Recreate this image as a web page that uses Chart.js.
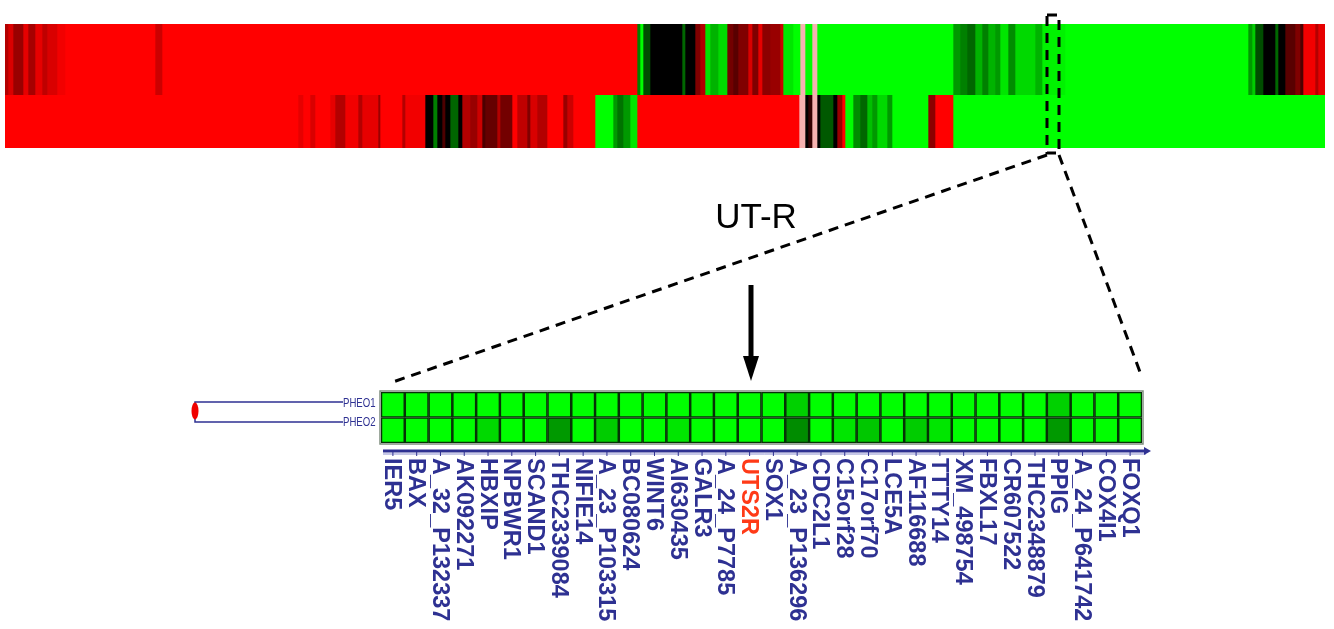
<!DOCTYPE html>
<html>
<head>
<meta charset="utf-8">
<script src="https://cdn.jsdelivr.net/npm/chart.js@4.4.1/dist/chart.umd.min.js"></script>
<style>
  html, body { margin: 0; padding: 0; background: #fff; }
  body { width: 1334px; height: 629px; position: relative; overflow: hidden; }
  canvas { position: absolute; }
  #overlay { pointer-events: none; }
</style>
</head>
<body>
<canvas id="stripA" width="1320" height="71" style="left:5px;top:24px"></canvas>
<canvas id="stripB" width="1320" height="53" style="left:5px;top:95px"></canvas>
<canvas id="zoomMap" width="1334" height="249" style="left:0;top:380px"></canvas>
<canvas id="overlay" width="1334" height="629" style="left:0;top:0"></canvas>
<script>
// genome-wide strip, run-length encoded: [log ratio, probe count]
// +1 = red (up), -1 = green (down), 0 = black, null = missing (pink)
const stripRunsA = [
  [0.7, 3], [0.85, 5], [0.6, 10], [0.9, 5], [0.65, 7], [0.9, 7], [0.75, 5], [0.85, 10], [0.95, 8],
  [1, 90], [0.8, 7], [1, 475],
  [-0.5, 3], [-1, 3], [-0.3, 7], [0, 32], [-0.4, 3], [0, 10], [0.5, 5], [0.7, 5],
  [-0.9, 5], [-0.7, 8], [-0.85, 9], [0.45, 6], [0.35, 5], [0.5, 10], [0.85, 4], [0.5, 6],
  [0.9, 4], [0.55, 8], [0.6, 10], [0.8, 3], [-0.9, 10], [-1, 7], [null, 5], [-1, 7], [null, 5],
  [-1, 136], [-0.6, 7], [-0.5, 7], [-0.4, 8], [-0.7, 7], [-0.5, 6], [-0.7, 7], [-0.6, 5],
  [-0.9, 8], [-0.55, 7], [-0.85, 20], [-0.7, 7], [-0.95, 23], [-1, 183],
  [-0.6, 4], [-0.8, 3], [-0.3, 8], [0, 12], [-0.4, 3], [0, 7], [0.35, 10], [0.5, 5], [0.3, 3],
  [0.95, 12], [0.7, 3], [0.9, 7]
];
const stripRunsB = [
  [1, 293], [0.9, 5], [1, 7], [0.85, 5], [1, 15], [0.9, 5], [0.7, 10], [0.95, 13], [0.7, 4],
  [0.9, 16], [0.6, 2], [1, 22], [0.7, 3], [0.95, 20], [0, 8], [-0.5, 4], [0, 5], [0.3, 3],
  [0, 5], [-0.4, 8], [0, 4], [0.7, 8], [0.6, 7], [0.8, 5], [0.3, 3], [0.4, 12], [0.7, 3],
  [0.45, 12], [1, 5], [0.75, 10], [0.5, 3], [0.85, 7], [0.7, 10], [1, 16], [0.6, 4], [0.8, 6],
  [1, 22], [-1, 18], [-0.6, 4], [-0.45, 6], [-0.6, 7], [-0.9, 7], [1, 162],
  [null, 6], [0, 3], [0.2, 4], [null, 5], [0, 3], [-0.35, 13], [0, 4], [0.6, 5], [1, 3],
  [-1, 8], [-0.55, 7], [-0.4, 7], [-0.75, 5], [-0.6, 5], [-0.85, 10], [-0.6, 5], [-1, 36],
  [0.55, 7], [1, 18], [-1, 372]
];

// zoomed cluster around UT-R
const genes = ['IER5', 'BAX', 'A_32_P132337', 'AK092271', 'HBXIP', 'NPBWR1', 'SCAND1', 'THC2339084',
  'NIFIE14', 'A_23_P103315', 'BC080624', 'WINT6', 'AI630435', 'GALR3', 'A_24_P7785', 'UTS2R',
  'SOX1', 'A_23_P136296', 'CDC2L1', 'C15orf28', 'C17orf70', 'LCE5A', 'AF116688', 'TTTY14',
  'XM_498754', 'FBXL17', 'CR607522', 'THC2348879', 'PPIG', 'A_24_P641742', 'COX4I1', 'FOXQ1'];
const samples = ['PHEO1', 'PHEO2'];
const pheo1 = [-1, -1, -1, -1, -1, -1, -1, -1, -1, -1, -1, -1, -1, -1, -1, -1,
  -1, -0.82, -1, -1, -1, -1, -1, -1, -1, -1, -1, -1, -0.82, -1, -1, -1];
const pheo2 = [-1, -1, -1, -1, -0.85, -1, -1, -0.6, -1, -0.8, -1, -1, -0.9, -1, -1, -1,
  -1, -0.55, -1, -0.9, -0.78, -1, -0.8, -0.9, -1, -1, -1, -1, -0.6, -1, -1, -1];
const highlightGene = 'UTS2R';

const NAVY = '#2e3192';
const FONT = '"Liberation Sans", Arial, sans-serif';

function cellColor(v) {
  if (v === null) return '#f7b2b0';
  const c = Math.round(255 * Math.abs(v));
  return v >= 0 ? `rgb(${c},0,0)` : `rgb(0,${c},0)`;
}

function stripChart(id, runs) {
  const total = runs.reduce((s, r) => s + r[1], 0);
  return new Chart(document.getElementById(id), {
    type: 'bar',
    data: {
      labels: [''],
      datasets: runs.map(([v, n]) => ({
        data: [n],
        backgroundColor: cellColor(v),
        borderWidth: 0,
        barPercentage: 1,
        categoryPercentage: 1
      }))
    },
    options: {
      indexAxis: 'y',
      responsive: false,
      animation: false,
      layout: { padding: 0 },
      plugins: { legend: { display: false }, tooltip: { enabled: false } },
      scales: {
        x: { stacked: true, display: false, min: 0, max: total },
        y: { stacked: true, display: false }
      }
    }
  });
}

stripChart('stripA', stripRunsA);
stripChart('stripB', stripRunsB);

// axis line + rotated gene names under the zoomed map
const geneAxis = {
  id: 'geneAxis',
  afterDraw(chart) {
    const ctx = chart.ctx;
    const xs = chart.scales.x;
    const a = chart.chartArea;
    const yLine = a.bottom + 8;
    ctx.save();
    ctx.strokeStyle = 'rgba(20,50,20,0.55)';
    ctx.lineWidth = 1.5;
    ctx.strokeRect(a.left - 1, a.top - 1, a.right - a.left + 2, a.bottom - a.top + 2);
    ctx.strokeStyle = '#8c8fd0';
    ctx.lineWidth = 1;
    ctx.beginPath();
    ctx.moveTo(a.left + 2, yLine + 3);
    ctx.lineTo(a.right + 4, yLine + 3);
    ctx.stroke();
    ctx.strokeStyle = NAVY;
    ctx.lineWidth = 3;
    ctx.beginPath();
    ctx.moveTo(a.left + 2, yLine);
    ctx.lineTo(a.right + 4, yLine);
    ctx.stroke();
    ctx.fillStyle = NAVY;
    ctx.beginPath();
    ctx.moveTo(a.right + 9, yLine);
    ctx.lineTo(a.right + 2, yLine - 4);
    ctx.lineTo(a.right + 2, yLine + 4);
    ctx.closePath();
    ctx.fill();
    ctx.lineWidth = 1;
    genes.forEach((g, i) => {
      const px = xs.getPixelForValue(i);
      ctx.beginPath();
      ctx.moveTo(px, yLine);
      ctx.lineTo(px, yLine + 5);
      ctx.stroke();
    });
    ctx.font = 'bold 23.5px ' + FONT;
    ctx.textAlign = 'left';
    ctx.textBaseline = 'middle';
    genes.forEach((g, i) => {
      const px = xs.getPixelForValue(i);
      ctx.save();
      ctx.translate(px, yLine + 7);
      ctx.rotate(Math.PI / 2);
      ctx.fillStyle = g === highlightGene ? '#ff3a17' : NAVY;
      ctx.fillText(g, 0, 1);
      ctx.restore();
    });
    ctx.restore();
  }
};

new Chart(document.getElementById('zoomMap'), {
  type: 'bar',
  data: {
    labels: genes,
    datasets: [
      { label: samples[1], data: genes.map(() => 1), backgroundColor: pheo2.map(cellColor) },
      { label: samples[0], data: genes.map(() => 1), backgroundColor: pheo1.map(cellColor) }
    ]
  },
  options: {
    responsive: false,
    animation: false,
    layout: { padding: { left: 381, right: 192, top: 12, bottom: 186 } },
    datasets: {
      bar: {
        barPercentage: 1,
        categoryPercentage: 1,
        borderColor: '#063206',
        borderWidth: 1.6,
        borderSkipped: false
      }
    },
    plugins: { legend: { display: false }, tooltip: { enabled: false } },
    scales: {
      x: { stacked: true, display: false },
      y: { stacked: true, display: false, min: 0, max: 2 }
    }
  },
  plugins: [geneAxis]
});

// annotations: zoom box, connector lines, UT-R arrow, sample dendrogram
(function drawOverlay() {
  const ctx = document.getElementById('overlay').getContext('2d');
  ctx.strokeStyle = '#000';
  ctx.lineWidth = 3;
  ctx.setLineDash([10, 7]);
  ctx.strokeRect(1047, 15, 12, 138);
  ctx.beginPath();
  ctx.moveTo(1047, 155); ctx.lineTo(390, 383);
  ctx.moveTo(1059, 155); ctx.lineTo(1140, 372);
  ctx.stroke();
  ctx.setLineDash([]);

  ctx.fillStyle = '#000';
  ctx.font = '35px ' + FONT;
  ctx.textAlign = 'center';
  ctx.textBaseline = 'alphabetic';
  ctx.fillText('UT-R', 756, 228);

  ctx.lineWidth = 5;
  ctx.beginPath();
  ctx.moveTo(751, 285); ctx.lineTo(751, 360);
  ctx.stroke();
  ctx.beginPath();
  ctx.moveTo(743, 356); ctx.lineTo(759, 356); ctx.lineTo(751, 381);
  ctx.closePath();
  ctx.fill();

  // dendrogram
  ctx.strokeStyle = NAVY;
  ctx.lineWidth = 1.5;
  ctx.beginPath();
  ctx.moveTo(343, 402); ctx.lineTo(195, 402); ctx.lineTo(195, 422); ctx.lineTo(343, 422);
  ctx.stroke();
  ctx.fillStyle = '#f00000';
  ctx.beginPath();
  ctx.ellipse(195, 411, 3.5, 8.5, 0, 0, Math.PI * 2);
  ctx.fill();
  ctx.fillStyle = NAVY;
  ctx.textAlign = 'left';
  ctx.textBaseline = 'middle';
  ctx.font = '12px ' + FONT;
  [[samples[0], 404], [samples[1], 423]].forEach(([s, y]) => {
    ctx.save();
    ctx.translate(343, y);
    ctx.scale(0.8, 1);
    ctx.fillText(s, 0, 0);
    ctx.restore();
  });
})();
</script>
</body>
</html>
